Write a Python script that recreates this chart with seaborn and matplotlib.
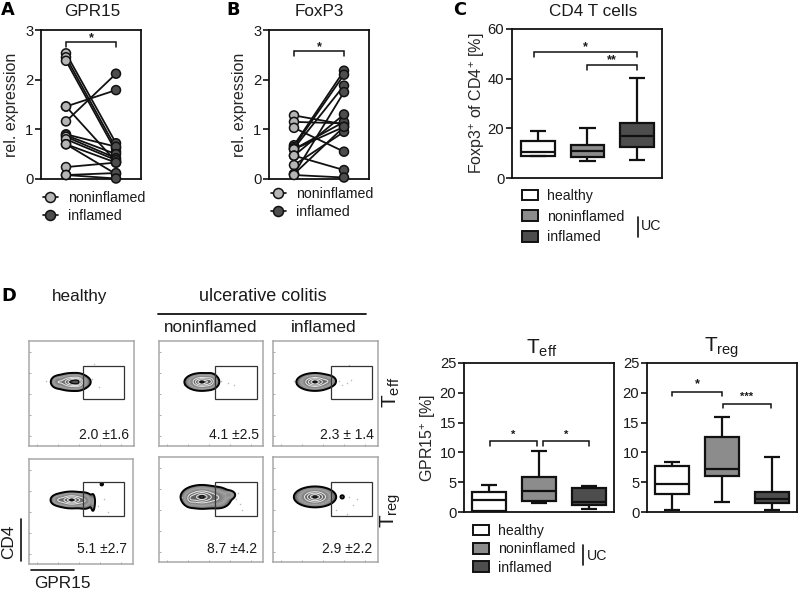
import numpy as np
import pandas as pd
import matplotlib
matplotlib.use("Agg")
import matplotlib.pyplot as plt
from matplotlib.colors import LinearSegmentedColormap
from matplotlib.lines import Line2D
from matplotlib.patches import Patch, Rectangle
import seaborn as sns

# ---------- data ----------
conditions_pair = ["noninflamed", "inflamed"]
gpr15_noninflamed = [2.53, 2.45, 2.38, 1.46, 1.46, 1.16, 0.90, 0.88, 0.85, 0.80, 0.70, 0.70, 0.24, 0.08, 0.08]
gpr15_inflamed = [0.72, 0.62, 0.55, 1.79, 0.35, 2.12, 0.65, 0.50, 0.42, 0.38, 0.33, 0.10, 0.33, 0.12, 0.01]
foxp3_noninflamed = [1.28, 1.15, 1.03, 0.68, 0.65, 0.62, 0.60, 0.60, 0.47, 0.47, 0.28, 0.10, 0.10, 0.08]
foxp3_inflamed = [1.10, 1.12, 0.55, 2.18, 2.10, 1.88, 1.15, 1.05, 0.18, 1.30, 0.95, 1.75, 1.05, 0.03]

groups = ["healthy", "noninflamed", "inflamed"]
# five-number summaries: min, q1, median, q3, max
cd4_healthy = [8.7, 8.9, 10.3, 14.8, 18.8]
cd4_noninflamed = [6.7, 8.3, 10.7, 13.4, 20.1]
cd4_inflamed = [7.4, 12.3, 17.0, 22.0, 40.4]
teff_healthy = [0.05, 0.2, 2.0, 3.4, 4.5]
teff_noninflamed = [1.5, 1.9, 3.6, 5.8, 10.2]
teff_inflamed = [0.45, 1.1, 1.7, 4.0, 4.4]
treg_healthy = [0.35, 3.1, 4.7, 7.7, 8.4]
treg_noninflamed = [1.6, 6.0, 7.2, 12.6, 15.9]
treg_inflamed = [0.35, 1.5, 2.2, 3.3, 9.2]

flow_labels = ["2.0 ±1.6", "4.1 ±2.5", "2.3 ± 1.4", "5.1 ±2.7", "8.7 ±4.2", "2.9 ±2.2"]
# density components per flow panel: x, y, sx, sy, weight (panel fractions)
flow_h_teff = [(0.41, 0.61, 0.075, 0.036, 1.0), (0.27, 0.61, 0.030, 0.028, 0.3), (0.47, 0.61, 0.03, 0.035, 0.3)]
flow_n_teff = [(0.41, 0.61, 0.070, 0.036, 1.0), (0.50, 0.62, 0.03, 0.035, 0.3)]
flow_i_teff = [(0.40, 0.61, 0.075, 0.036, 1.0), (0.53, 0.62, 0.035, 0.025, 0.25)]
flow_h_treg = [(0.41, 0.61, 0.075, 0.034, 1.0), (0.28, 0.61, 0.035, 0.025, 0.3), (0.54, 0.60, 0.04, 0.04, 0.28),
               (0.615, 0.58, 0.012, 0.055, 0.14), (0.70, 0.76, 0.010, 0.010, 0.12)]
flow_n_treg = [(0.41, 0.62, 0.085, 0.048, 1.0), (0.58, 0.61, 0.06, 0.05, 0.35), (0.30, 0.60, 0.03, 0.035, 0.3),
               (0.68, 0.64, 0.028, 0.02, 0.28)]
flow_i_treg = [(0.40, 0.62, 0.085, 0.042, 1.0), (0.66, 0.62, 0.012, 0.012, 0.12)]
# faint outlying events per flow panel: x values, y values (panel fractions)
events_h_teff = ([0.62, 0.60, 0.67, 0.16], [0.78, 0.64, 0.56, 0.62])
events_n_teff = ([0.60, 0.66, 0.72, 0.24], [0.62, 0.60, 0.58, 0.58])
events_i_teff = ([0.63, 0.66, 0.70, 0.74, 0.20, 0.25, 0.72], [0.62, 0.58, 0.60, 0.63, 0.62, 0.57, 0.77])
events_h_treg = ([0.66, 0.72, 0.76, 0.20], [0.55, 0.62, 0.50, 0.60])
events_n_treg = ([0.74, 0.78, 0.80, 0.22, 0.76], [0.60, 0.55, 0.50, 0.62, 0.66])
events_i_treg = ([0.60, 0.72, 0.76, 0.80, 0.70], [0.50, 0.62, 0.54, 0.60, 0.46])

W, H = 798, 590
GREY_LIGHT, GREY_MID, GREY_DARK = "#b5b5b5", "#8c8c8c", "#4d4d4d"

sns.set_theme(style="ticks")
plt.rcParams["font.family"] = ["Liberation Sans", "DejaVu Sans"]
plt.rcParams["mathtext.default"] = "regular"
plt.rcParams["text.color"] = "#1a1a1a"

fig = plt.figure(figsize=(W / 100, H / 100), dpi=100, facecolor="white")


def px_axes(l, t, r, b):
    return fig.add_axes([l / W, 1 - b / H, (r - l) / W, (b - t) / H])


def px_text(x, y, s, size=12, ha="center", va="center", **kw):
    return fig.text(x / W, 1 - y / H, s, fontsize=size, ha=ha, va=va, **kw)


def px_line(x0, y0, x1, y1, lw=1.2, color="#111111"):
    fig.add_artist(Line2D([x0 / W, x1 / W], [1 - y0 / H, 1 - y1 / H], color=color, lw=lw,
                          transform=fig.transFigure))


def style_axes(ax, ylim, yticks):
    ax.set_ylim(*ylim)
    ax.set_yticks(yticks)
    ax.set_xticks([])
    ax.set_xlabel("")
    ax.tick_params(axis="y", length=4, width=1.2, labelsize=10.6, pad=1.5, color="#111111", labelcolor="#1a1a1a")
    for s in ax.spines.values():
        s.set_visible(True)
        s.set_linewidth(1.3)
        s.set_color("#111111")


def bracket(ax, x0, x1, y, drop, star, star_y, size=9):
    ax.plot([x0, x0, x1, x1], [y - drop, y, y, y - drop], color="#111111", lw=1.1, clip_on=False,
            solid_joinstyle="miter")
    ax.text((x0 + x1) / 2, star_y, star, ha="center", va="center", fontsize=size, fontweight="bold")


def paired(ax, before, after):
    df = pd.DataFrame({
        "pair": list(range(len(before))) * 2,
        "x": [0] * len(before) + [1] * len(after),
        "condition": [conditions_pair[0]] * len(before) + [conditions_pair[1]] * len(after),
        "value": list(before) + list(after),
    })
    sns.lineplot(data=df, x="x", y="value", units="pair", estimator=None, color="#111111", lw=1.3,
                 ax=ax, legend=False)
    sns.scatterplot(data=df, x="x", y="value", hue="condition",
                    palette={conditions_pair[0]: GREY_LIGHT, conditions_pair[1]: GREY_DARK},
                    s=42, edgecolor="#111111", linewidth=1.1, ax=ax, legend=False, clip_on=False, zorder=3)
    ax.set_xlim(-0.5, 1.5)
    style_axes(ax, (0, 3), [0, 1, 2, 3])
    ax.set_ylabel("rel. expression", fontsize=11.5, labelpad=4.5)


def pair_legend(ax, x, y):
    handles = [Line2D([], [], color="#111111", lw=1.2, marker="o", ms=7.2, mfc=c, mec="#111111", mew=1.1)
               for c in (GREY_LIGHT, GREY_DARK)]
    ax.legend(handles, conditions_pair, loc="upper left", bbox_to_anchor=(x / W, 1 - y / H),
              bbox_transform=fig.transFigure, frameon=False, fontsize=10.2, borderpad=0, borderaxespad=0,
              handlelength=1.05, handletextpad=0.7, labelspacing=0.3, labelcolor="#1a1a1a")


def boxes(ax, a, b, c, ylim, yticks, ylabel=None, labelpad=1):
    df = pd.DataFrame({"group": np.repeat(groups, 5), "value": list(a) + list(b) + list(c)})
    sns.boxplot(data=df, x="group", y="value", hue="group", order=groups, dodge=False, legend=False,
                palette={groups[0]: "white", groups[1]: GREY_MID, groups[2]: GREY_DARK},
                whis=(0, 100), width=0.67, linewidth=1.6, linecolor="#111111", saturation=1, ax=ax)
    for ln in ax.lines:
        ln.set_solid_capstyle("butt")
    ax.set_xlim(-0.5, 2.5)
    style_axes(ax, ylim, yticks)
    if ylabel:
        ax.set_ylabel(ylabel, fontsize=11.5, labelpad=labelpad)
    else:
        ax.set_ylabel("")


def box_legend(ax, x, y, spacing):
    handles = [Patch(facecolor=c, edgecolor="#111111", lw=1.4) for c in ("white", GREY_MID, GREY_DARK)]
    ax.legend(handles, groups, loc="upper left", bbox_to_anchor=(x / W, 1 - y / H),
              bbox_transform=fig.transFigure, frameon=False, fontsize=10.2, borderpad=0, borderaxespad=0,
              handlelength=1.13, handleheight=0.8, handletextpad=0.65, labelspacing=spacing, labelcolor="#1a1a1a")


# ---------- A ----------
ax = px_axes(41, 30, 141, 179)
paired(ax, gpr15_noninflamed, gpr15_inflamed)
bracket(ax, 0, 1, 2.75, 0.09, "*", 2.83)
pair_legend(ax, 43, 191)
px_text(92, 11, "GPR15", 12.3)

# ---------- B ----------
ax = px_axes(269, 30, 369, 179)
paired(ax, foxp3_noninflamed, foxp3_inflamed)
bracket(ax, 0, 1, 2.58, 0.10, "*", 2.66)
pair_legend(ax, 271, 187)
px_text(319, 11, "FoxP3", 12.3)

# ---------- C ----------
ax = px_axes(512, 29, 662, 178)
boxes(ax, cd4_healthy, cd4_noninflamed, cd4_inflamed, (0, 60), [0, 20, 40, 60],
      "Foxp3$^{+}$ of CD4$^{+}$ [%]", labelpad=0.5)
ax.set_xlim(-0.525, 2.505)
bracket(ax, -0.08, 2.0, 50.6, 1.9, "*", 52.6)
bracket(ax, 1.0, 2.0, 45.5, 1.9, "**", 47.5)
box_legend(ax, 522, 189, 0.46)
px_text(593, 11, "CD4 T cells", 12.3)
px_line(638, 217, 638, 237)
px_text(641, 226, "UC", 10.2, ha="left")

# ---------- D boxes ----------
ax = px_axes(464, 363, 614, 512)
boxes(ax, teff_healthy, teff_noninflamed, teff_inflamed, (0, 25), [0, 5, 10, 15, 20, 25], "GPR15$^{+}$ [%]")
bracket(ax, 0.02, 0.95, 11.9, 0.8, "*", 13.0, 8)
bracket(ax, 1.07, 2.0, 11.9, 0.8, "*", 13.0, 8)
box_legend(ax, 473, 524, 0.3)
px_text(542, 348, "T$_{eff}$", 15)
px_line(583, 545, 583, 565)
px_text(587, 556, "UC", 10.2, ha="left")

ax = px_axes(647, 363, 797, 512)
boxes(ax, treg_healthy, treg_noninflamed, treg_inflamed, (0, 25), [0, 5, 10, 15, 20, 25])
bracket(ax, 0.0, 1.0, 20.2, 0.8, "*", 21.5)
bracket(ax, 1.02, 1.97, 18.2, 0.8, "***", 19.3, 8)
px_text(722, 348, "T$_{reg}$", 15)

# ---------- D flow panels ----------
flow_cmap = LinearSegmentedColormap.from_list(
    "flow", ["#2e2e2e", "#626262", "#8c8c8c", "#a0a0a0", "#808080", "#606060", "#505050"])
gx, gy = np.meshgrid(np.linspace(0, 1, 320), np.linspace(0, 1, 320))


def flow(rect, components, events, gate, label, label_xy):
    l, t, r, b = rect
    ax = px_axes(l, t, r, b)
    z = np.zeros_like(gx)
    for cx, cy, sx, sy, w in components:
        z += w * np.exp(-0.5 * (((gx - cx) / sx) ** 2 + ((gy - cy) / sy) ** 2))
    log_z = np.log10(np.maximum(z, 1e-6))
    ax.contourf(gx, gy, log_z, levels=np.linspace(np.log10(0.06), 0.1, 32), cmap=flow_cmap, extend="max")
    ax.contour(gx, gy, z, levels=[0.06], colors="#050505", linewidths=1.4)
    ax.contour(gx, gy, z, levels=[0.5, 0.7, 0.88], colors="#e4e4e4", linewidths=0.75)
    ax.contour(gx, gy, z, levels=[0.98], colors="#111111", linewidths=1.0)
    ax.scatter(events[0], events[1], s=1.2, color="#bbbbbb", linewidths=0)
    gl, gt, gr, gb = gate
    ax.add_patch(Rectangle(((gl - l) / (r - l), (b - gb) / (b - t)), (gr - gl) / (r - l), (gb - gt) / (b - t),
                           fill=False, ec="#333333", lw=0.9, zorder=4))
    ax.set_xlim(0, 1)
    ax.set_ylim(0, 1)
    ax.set_xticks(np.arange(0.08, 1, 0.2))
    ax.set_yticks(np.arange(0.1, 1, 0.2))
    ax.tick_params(length=1.5, width=0.5, direction="in", color="#888888", labelbottom=False, labelleft=False)
    for s in ax.spines.values():
        s.set_visible(True)
        s.set_color("#a8a8a8")
        s.set_linewidth(1.1)
    px_text(label_xy[0], label_xy[1], label, 10, ha="right")


flow((29, 341, 134, 446), flow_h_teff, events_h_teff, (83, 366, 124, 399), flow_labels[0], (129, 435))
flow((159, 341, 263, 446), flow_n_teff, events_n_teff, (215, 366, 257, 399), flow_labels[1], (259, 435))
flow((273, 341, 378, 446), flow_i_teff, events_i_teff, (331, 366, 372, 399), flow_labels[2], (374, 435))
flow((29, 459, 133, 564), flow_h_treg, events_h_treg, (83, 482, 124, 516), flow_labels[3], (127, 549))
flow((159, 457, 263, 562), flow_n_treg, events_n_treg, (215, 482, 257, 516), flow_labels[4], (257, 549))
flow((273, 457, 378, 562), flow_i_treg, events_i_treg, (331, 482, 372, 516), flow_labels[5], (372, 549))

px_text(80, 297, "healthy", 12.3)
px_text(263, 297, "ulcerative colitis", 13)
px_line(158, 313.5, 366, 313.5, lw=1.3)
px_text(211, 327, "noninflamed", 12.3)
px_text(324, 327, "inflamed", 12.4)
px_text(391, 392, "T$_{eff}$", 15, rotation=90)
px_text(391, 510, "T$_{reg}$", 15, rotation=90)
px_text(9, 542, "CD4", 12.4, rotation=90)
px_line(21, 519, 21, 561)
px_line(31, 570, 74, 570)
px_text(62, 584, "GPR15", 12.4)

# ---------- panel letters ----------
for x, y, s in [(1, 10, "A"), (226, 10, "B"), (453, 10, "C"), (1, 296, "D")]:
    px_text(x, y, s, 12.8, ha="left", family="DejaVu Sans", fontweight="bold", color="black")

fig.savefig("out.png", dpi=100, facecolor="white")
